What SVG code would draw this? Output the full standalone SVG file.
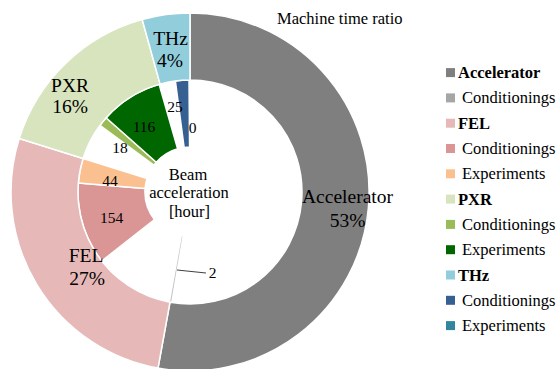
<svg xmlns="http://www.w3.org/2000/svg" width="559" height="369" viewBox="0 0 559 369" font-family="'Liberation Serif', 'Times New Roman', serif">
  <style>
    .seg { stroke: #fff; stroke-width: 1.5; stroke-linejoin: round; }
    .big { font-family: 'Liberation Serif', 'Times New Roman', serif; font-size: 19.5px; text-anchor: middle; fill: #000; }
    .num { font-family: 'Liberation Serif', 'Times New Roman', serif; font-size: 15.5px; text-anchor: middle; fill: #000; }
    .ctr { font-family: 'Liberation Serif', 'Times New Roman', serif; font-size: 16.5px; text-anchor: middle; fill: #000; }
    .leg { font-family: 'Liberation Serif', 'Times New Roman', serif; font-size: 16.5px; fill: #000; }
    .legb { font-family: 'Liberation Serif', 'Times New Roman', serif; font-size: 16.5px; font-weight: bold; fill: #000; }
    .title { font-family: 'Liberation Serif', 'Times New Roman', serif; font-size: 16.5px; fill: #000; }
    .lead { stroke: #404040; stroke-width: 1; fill: none; }
  </style>
  <rect width="559" height="369" fill="#fff"/>

  <text class="title" x="277" y="24">Machine time ratio</text>

  <!-- Inner ring -->
  <g id="inner-acc-conditionings">
    <path fill="#c4c4c4" d="M171.1 302.4 L182.4 236.4 L181.9 236.3 L170.0 302.2 Z"/>
    <text class="num" x="212.5" y="278">2</text>
  </g>
  <g id="inner-fel-conditionings">
    <path class="seg" fill="#d99694" d="M101.7 261.0 A112 112 0 0 1 78.4 183.0 L145.1 188.4 A45 45 0 0 0 154.5 219.7 Z"/>
    <text class="num" x="111.5" y="223">154</text>
  </g>
  <g id="inner-fel-experiments">
    <path class="seg" fill="#fac090" d="M78.4 183.0 A112 112 0 0 1 83.1 158.5 L147.1 178.5 A45 45 0 0 0 145.1 188.4 Z"/>
    <text class="num" x="110" y="186">44</text>
  </g>
  <g id="inner-pxr-conditionings">
    <path class="seg" fill="#9bbb59" d="M100.0 125.4 A112 112 0 0 1 106.1 117.8 L156.3 162.2 A45 45 0 0 0 153.8 165.2 Z"/>
    <text class="num" x="120" y="153">18</text>
  </g>
  <g id="inner-pxr-experiments">
    <path class="seg" fill="#006600" d="M106.1 117.8 A112 112 0 0 1 159.1 84.3 L177.6 148.7 A45 45 0 0 0 156.3 162.2 Z"/>
    <text class="num" x="144" y="132">116</text>
  </g>
  <g id="inner-thz-conditionings">
    <path class="seg" fill="#376092" d="M175.4 81.0 A112 112 0 0 1 189.0 80.0 L189.6 147.0 A45 45 0 0 0 184.1 147.4 Z"/>
    <text class="num" x="175" y="112">25</text>
  </g>
  <g id="inner-thz-experiments">
    <text class="num" x="192.5" y="133">0</text>
  </g>
  <g id="center-label">
    <text class="ctr" x="188" y="180">Beam</text>
    <text class="ctr" x="189" y="198">acceleration</text>
    <text class="ctr" x="189.5" y="217">[hour]</text>
  </g>

  <!-- Outer ring -->
  <g id="outer-accelerator">
    <path class="seg" fill="#7f7f7f" d="M190 13 A179 179 0 1 1 158.0 368.1 L170.0 302.2 A112 112 0 1 0 190 80 Z"/>
    <text class="big" x="347.5" y="203">Accelerator</text>
    <text class="big" x="347.5" y="227">53%</text>
  </g>
  <g id="outer-fel">
    <path class="seg" fill="#e6b9b8" d="M158.0 368.1 A179 179 0 0 1 19.2 138.5 L83.1 158.5 A112 112 0 0 0 170.0 302.2 Z"/>
    <text class="big" x="86" y="262">FEL</text>
    <text class="big" x="87" y="285">27%</text>
  </g>
  <g id="outer-pxr">
    <path class="seg" fill="#d7e4bd" d="M19.2 138.5 A179 179 0 0 1 142.2 19.5 L160.1 84.1 A112 112 0 0 0 83.1 158.5 Z"/>
    <text class="big" x="70" y="92">PXR</text>
    <text class="big" x="70" y="113">16%</text>
  </g>
  <g id="outer-thz">
    <path class="seg" fill="#92cddc" d="M142.2 19.5 A179 179 0 0 1 190 13 L190 80 A112 112 0 0 0 160.1 84.1 Z"/>
    <text class="big" x="170.5" y="45">THz</text>
    <text class="big" x="170" y="67">4%</text>
  </g>

  <g id="connectors">
    <line class="lead" x1="177" y1="270" x2="206" y2="273"/>
  </g>

  <!-- Legend -->
  <g id="legend">
    <g id="leg-accelerator"><rect x="446" y="68.1" width="9" height="9" fill="#7f7f7f"/><text class="legb" x="458" y="78.1">Accelerator</text></g>
    <g id="leg-acc-cond"><rect x="446" y="93.4" width="9" height="9" fill="#a6a6a6"/><text class="leg" x="462" y="103.4">Conditionings</text></g>
    <g id="leg-fel"><rect x="446" y="118.7" width="9" height="9" fill="#e6b9b8"/><text class="legb" x="458" y="128.7">FEL</text></g>
    <g id="leg-fel-cond"><rect x="446" y="144.0" width="9" height="9" fill="#d99694"/><text class="leg" x="462" y="154.0">Conditionings</text></g>
    <g id="leg-fel-exp"><rect x="446" y="169.3" width="9" height="9" fill="#fac090"/><text class="leg" x="462" y="179.3">Experiments</text></g>
    <g id="leg-pxr"><rect x="446" y="194.6" width="9" height="9" fill="#d7e4bd"/><text class="legb" x="458" y="204.6">PXR</text></g>
    <g id="leg-pxr-cond"><rect x="446" y="219.9" width="9" height="9" fill="#9bbb59"/><text class="leg" x="462" y="229.9">Conditionings</text></g>
    <g id="leg-pxr-exp"><rect x="446" y="245.2" width="9" height="9" fill="#006600"/><text class="leg" x="462" y="255.2">Experiments</text></g>
    <g id="leg-thz"><rect x="446" y="270.5" width="9" height="9" fill="#92cddc"/><text class="legb" x="458" y="280.5">THz</text></g>
    <g id="leg-thz-cond"><rect x="446" y="295.8" width="9" height="9" fill="#376092"/><text class="leg" x="462" y="305.8">Conditionings</text></g>
    <g id="leg-thz-exp"><rect x="446" y="321.1" width="9" height="9" fill="#31859c"/><text class="leg" x="462" y="331.1">Experiments</text></g>
  </g>
</svg>
